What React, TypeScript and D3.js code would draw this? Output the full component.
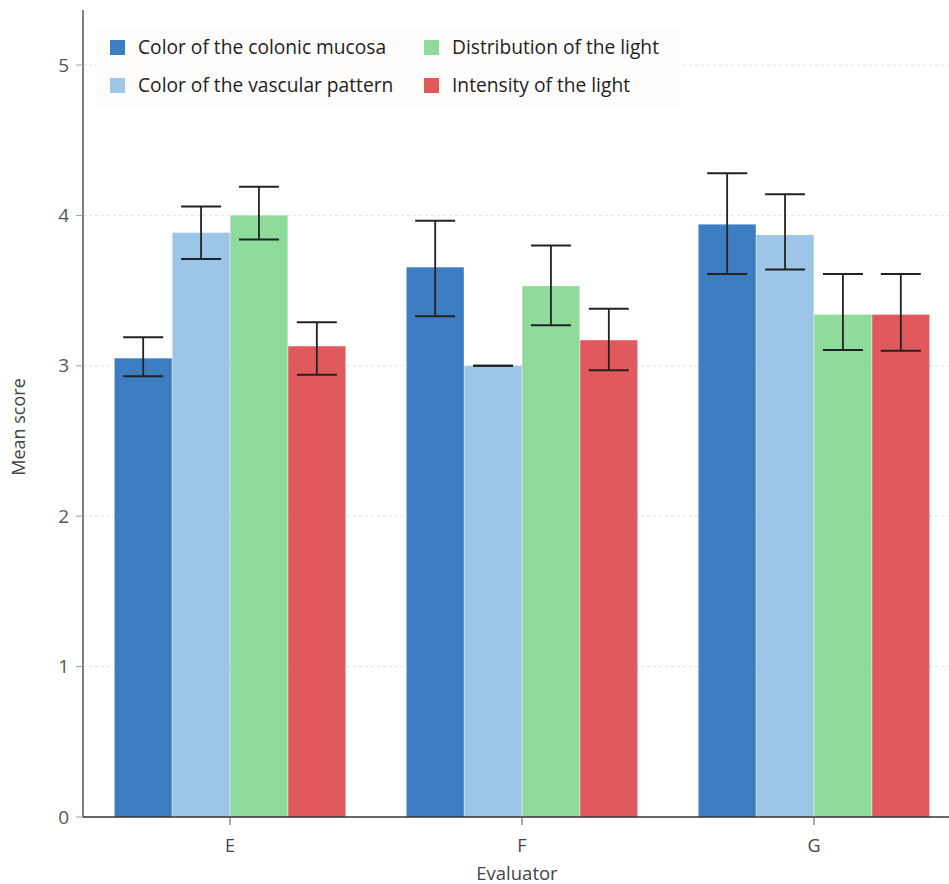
import React from "react";
import * as d3 from "d3";

const evaluators = ["E", "F", "G"];
const seriesNames = [
  "Color of the colonic mucosa",
  "Color of the vascular pattern",
  "Distribution of the light",
  "Intensity of the light",
];
const seriesColors = ["#3d7ec2", "#9cc5e8", "#8fdb9b", "#e2595d"];
// mean values per series, one entry per evaluator (E, F, G)
const mucosaMean = [3.05, 3.655, 3.94];
const vascularMean = [3.885, 3.0, 3.87];
const distributionMean = [4.0, 3.53, 3.34];
const intensityMean = [3.13, 3.17, 3.34];
const mucosaLow = [2.93, 3.33, 3.61];
const mucosaHigh = [3.19, 3.965, 4.28];
const vascularLow = [3.71, 3.0, 3.64];
const vascularHigh = [4.06, 3.0, 4.14];
const distributionLow = [3.84, 3.27, 3.105];
const distributionHigh = [4.19, 3.8, 3.61];
const intensityLow = [2.94, 2.97, 3.1];
const intensityHigh = [3.29, 3.38, 3.61];
const yTicks = [0, 1, 2, 3, 4, 5];

const means = [mucosaMean, vascularMean, distributionMean, intensityMean];
const lows = [mucosaLow, vascularLow, distributionLow, intensityLow];
const highs = [mucosaHigh, vascularHigh, distributionHigh, intensityHigh];

export default function App() {
  const W = 949;
  const H = 884;
  const left = 83;
  const y = d3.scaleLinear().domain([0, 5]).range([817, 65]);
  const x0 = d3
    .scaleBand<string>()
    .domain(evaluators)
    .range([left, 961])
    .paddingInner(0.205)
    .paddingOuter(0.106);
  const x1 = d3
    .scaleBand<string>()
    .domain(seriesNames)
    .range([0, x0.bandwidth()])
    .padding(0.01);
  const font = "'Open Sans', 'Noto Sans', sans-serif";
  const capW = 40;

  return (
    <svg
      width={W}
      height={H}
      style={{ position: "absolute", left: 0, top: 0, background: "#fff" }}
      fontFamily={font}
    >
      {/* gridlines */}
      {yTicks
        .filter((t) => t > 0)
        .map((t) => (
          <line
            key={"g" + t}
            x1={left}
            x2={W}
            y1={y(t)}
            y2={y(t)}
            stroke="#e2e2e2"
            strokeWidth={1}
            strokeDasharray="3,3"
          />
        ))}
      {/* legend */}
      <rect x={96} y={26} width={584} height={80} fill="#fdfcfb" />
      {seriesNames.map((s, i) => {
        const col = Math.floor(i / 2);
        const row = i % 2;
        const lx = 110 + col * 314;
        const ly = 40 + row * 38;
        return (
          <g key={s}>
            <rect x={lx} y={ly} width={15} height={15} fill={seriesColors[i]} />
            <text x={lx + 28} y={ly + 14} fontSize={19.2} fill="#1e1e1e">
              {s}
            </text>
          </g>
        );
      })}
      {/* bars */}
      {evaluators.map((e, gi) => (
        <g key={e} transform={`translate(${x0(e)},0)`}>
          {seriesNames.map((s, si) => {
            const bx = x1(s)!;
            const bw = x1.bandwidth();
            const v = means[si][gi];
            const cx = bx + bw / 2;
            const lo = lows[si][gi];
            const hi = highs[si][gi];
            return (
              <g key={s}>
                <rect
                  x={bx}
                  y={y(v)}
                  width={bw}
                  height={y(0) - y(v)}
                  fill={seriesColors[si]}
                />
                <line x1={cx} x2={cx} y1={y(hi)} y2={y(lo)} stroke="#222" strokeWidth={1.8} />
                <line x1={cx - capW / 2} x2={cx + capW / 2} y1={y(hi)} y2={y(hi)} stroke="#222" strokeWidth={2} />
                <line x1={cx - capW / 2} x2={cx + capW / 2} y1={y(lo)} y2={y(lo)} stroke="#222" strokeWidth={2} />
              </g>
            );
          })}
        </g>
      ))}
      {/* y axis */}
      <line x1={left} x2={left} y1={10} y2={y(0)} stroke="#555" strokeWidth={1.5} />
      {yTicks.map((t) => (
        <g key={"t" + t}>
          <line x1={left - 7} x2={left} y1={y(t)} y2={y(t)} stroke="#8aa" strokeWidth={1} />
          <text
            x={left - 14}
            y={y(t)}
            dy="0.35em"
            textAnchor="end"
            fontSize={19}
            fill="#555"
          >
            {t}
          </text>
        </g>
      ))}
      {/* x axis */}
      <line x1={left} x2={W} y1={y(0)} y2={y(0)} stroke="#333" strokeWidth={1.5} />
      {evaluators.map((e) => {
        const cx = x0(e)! + x0.bandwidth() / 2;
        return (
          <g key={"x" + e}>
            <line x1={cx} x2={cx} y1={y(0)} y2={y(0) + 8} stroke="#555" strokeWidth={1} />
            <text x={cx} y={852} textAnchor="middle" fontSize={18} fill="#444">
              {e}
            </text>
          </g>
        );
      })}
      <text x={517} y={880} textAnchor="middle" fontSize={18.5} fill="#444">
        Evaluator
      </text>
      <text
        transform={`translate(25,${427}) rotate(-90)`}
        textAnchor="middle"
        fontSize={18}
        fill="#444"
      >
        Mean score
      </text>
    </svg>
  );
}
